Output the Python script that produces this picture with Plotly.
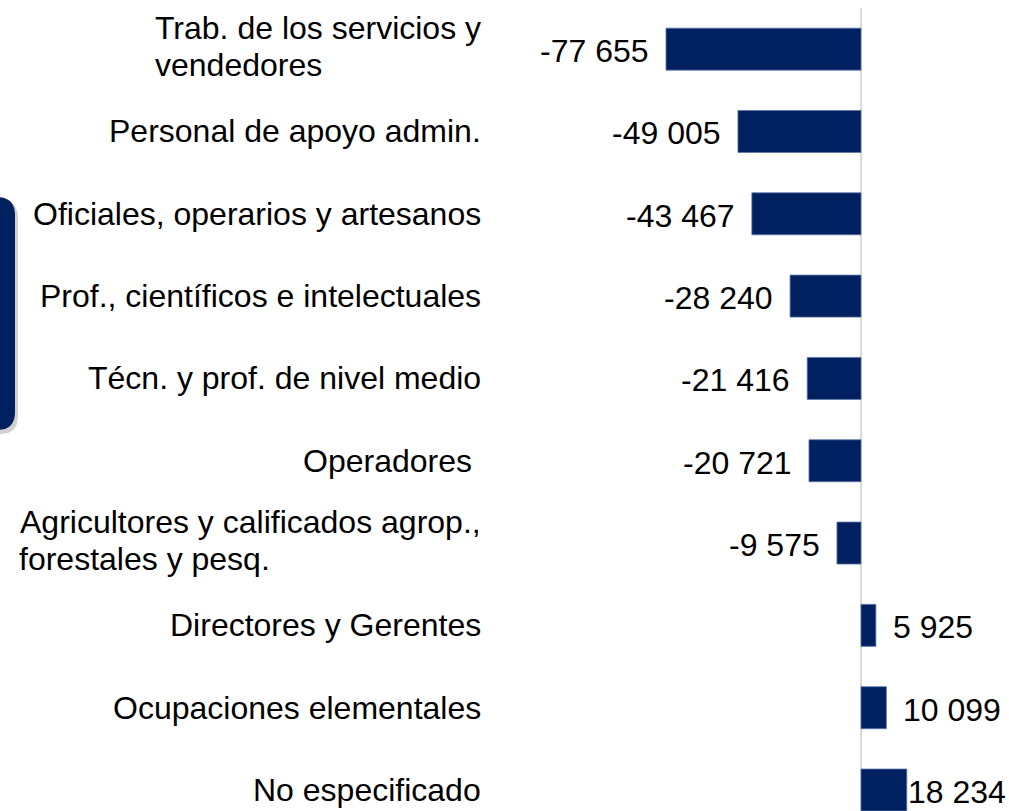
import plotly.graph_objects as go

# ---- data ----
categories = [
    "Trab. de los servicios y\nvendedores",
    "Personal de apoyo admin.",
    "Oficiales, operarios y artesanos",
    "Prof., científicos e intelectuales",
    "Técn. y prof. de nivel medio",
    "Operadores\u00a0",
    "Agricultores y calificados agrop.,\nforestales y pesq.",
    "Directores y Gerentes",
    "Ocupaciones elementales",
    "No especificado",
]
values = [-77655, -49005, -43467, -28240, -21416, -20721, -9575, 5925, 10099, 18234]

# ---- layout constants ----
W, H = 1009, 811
TOP = 8
FONT = "Liberation Sans, Arial, sans-serif"
FS = 32
NAVY = "#002060"

cat_ids = [c.replace("\n", " ") for c in categories]

fig = go.Figure()
fig.add_trace(go.Bar(
    x=values, y=cat_ids, orientation="h",
    marker=dict(color=NAVY, line=dict(color="#5a76a8", width=0.8)),
    hoverinfo="x+y",
))

def fmt(v):
    return f"{v:,}".replace(",", " ")

annotations = []
# value labels
for i, (c, v) in enumerate(zip(cat_ids, values)):
    if v < 0:
        xa, xs = "right", -15
    else:
        xa, xs = "left", (-1 if i == len(values) - 1 else 15)
    annotations.append(dict(
        x=v, y=c, xref="x", yref="y", text=fmt(v), showarrow=False,
        xanchor=xa, yanchor="middle", xshift=xs, yshift=-2,
        font=dict(family=FONT, size=FS, color="#000000"),
    ))

# category labels
LABEL_RIGHT = 483 / W
left_edges = {0: 153 / W, 6: 17 / W}
line_shifts = {0: (21, -16), 6: (21, -16)}
for i, (c, full) in enumerate(zip(cat_ids, categories)):
    lines = full.split("\n")
    if len(lines) == 1:
        annotations.append(dict(
            x=LABEL_RIGHT, y=c, xref="paper", yref="y", text=lines[0],
            showarrow=False, xanchor="right", yanchor="middle",
            font=dict(family=FONT, size=FS, color="#000000"),
        ))
    else:
        s1, s2 = line_shifts[i]
        annotations.append(dict(
            x=LABEL_RIGHT, y=c, xref="paper", yref="y", text=lines[0],
            showarrow=False, xanchor="right", yanchor="middle", yshift=s1,
            font=dict(family=FONT, size=FS, color="#000000"),
        ))
        annotations.append(dict(
            x=left_edges[i], y=c, xref="paper", yref="y", text=lines[1],
            showarrow=False, xanchor="left", yanchor="middle", yshift=s2,
            font=dict(family=FONT, size=FS, color="#000000"),
        ))

# decorative rounded box on the left edge (paper coordinates from pixels)
def px(x):
    return x / W

def py(y):
    return (H - y) / (H - TOP)

def rounded_rect(x0, y0, x1, y1, r):
    return (
        f"M {px(x0)},{py(y0)} L {px(x1 - r)},{py(y0)} "
        f"Q {px(x1)},{py(y0)} {px(x1)},{py(y0 + r)} "
        f"L {px(x1)},{py(y1 - r)} "
        f"Q {px(x1)},{py(y1)} {px(x1 - r)},{py(y1)} "
        f"L {px(x0)},{py(y1)} Z"
    )

shapes = [
    dict(type="path", xref="paper", yref="paper",
         path=rounded_rect(-30, 200, 18, 434, 18),
         fillcolor="rgba(0,0,0,0.18)", line=dict(width=0), layer="above"),
    dict(type="path", xref="paper", yref="paper",
         path=rounded_rect(-30, 197, 15, 430, 18),
         fillcolor=NAVY, line=dict(width=0), layer="above"),
]

fig.update_layout(
    width=W, height=H,
    margin=dict(l=0, r=0, t=TOP, b=0),
    paper_bgcolor="white", plot_bgcolor="white",
    showlegend=False,
    bargap=0.49,
    annotations=annotations,
    shapes=shapes,
    xaxis=dict(
        range=[-861 / 0.002511, (W - 861) / 0.002511],
        showgrid=False, showticklabels=False, ticks="",
        zeroline=True, zerolinecolor="#d9d9d9", zerolinewidth=2,
        showline=False, fixedrange=True,
    ),
    yaxis=dict(
        type="category", categoryorder="array", categoryarray=cat_ids,
        range=[9.255, -0.5],
        showgrid=False, showticklabels=False, ticks="", showline=False,
        fixedrange=True,
    ),
)

fig.write_html(
    "out.html",
    config={"displayModeBar": False},
    post_script="document.body.style.margin='0';document.body.style.overflow='hidden';",
)
